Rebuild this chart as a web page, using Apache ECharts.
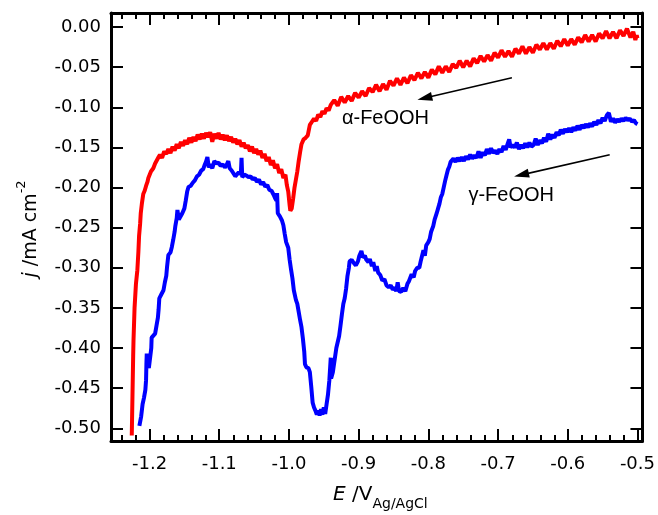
<!DOCTYPE html>
<html><head><meta charset="utf-8">
<script src="https://cdn.jsdelivr.net/npm/echarts@6/dist/echarts.min.js"></script>
<style>html,body{margin:0;padding:0;background:#fff}#c{width:658px;height:515px}</style>
</head><body><div id="c"></div>
<script>
// ---- tick values ----
const xMajorTicks = [-1.2, -1.1, -1.0, -0.9, -0.8, -0.7, -0.6, -0.5];
const xMinorTicks = [-1.24, -1.22, -1.18, -1.16, -1.14, -1.12, -1.08, -1.06, -1.04, -1.02,
  -0.98, -0.96, -0.94, -0.92, -0.88, -0.86, -0.84, -0.82, -0.78, -0.76, -0.74, -0.72,
  -0.68, -0.66, -0.64, -0.62, -0.58, -0.56, -0.54, -0.52];
const yTicks = [0, -0.05, -0.10, -0.15, -0.20, -0.25, -0.30, -0.35, -0.40, -0.45, -0.50];
const xRange = [-1.2553, -0.4928];
const yRange = [-0.5158, 0.0175];

// ---- series: E (V vs Ag/AgCl), j (mA cm^-2) ----
const alphaFeOOH = [
[-1.2255,-0.509],[-1.2245,-0.46],[-1.2235,-0.41],[-1.223,-0.39],[-1.2215,-0.35],[-1.2195,-0.32],[-1.2175,-0.303],
[-1.216,-0.28],[-1.215,-0.26],[-1.2135,-0.245],[-1.2126,-0.232],[-1.211,-0.22],[-1.209,-0.208],[-1.207,-0.204],
[-1.205,-0.198],[-1.203,-0.193],[-1.2017,-0.188],[-1.2,-0.186],[-1.198,-0.18],[-1.1946,-0.176],[-1.192,-0.17],
[-1.19,-0.168],[-1.187,-0.162],[-1.185,-0.159],[-1.182,-0.163],[-1.179,-0.155],[-1.176,-0.158],[-1.173,-0.152],
[-1.17,-0.157],[-1.167,-0.149],[-1.164,-0.154],[-1.161,-0.146],[-1.158,-0.151],[-1.155,-0.143],[-1.152,-0.148],
[-1.149,-0.141],[-1.146,-0.146],[-1.143,-0.138],[-1.14,-0.144],[-1.137,-0.137],[-1.134,-0.142],[-1.131,-0.134],
[-1.128,-0.14],[-1.125,-0.133],[-1.122,-0.139],[-1.119,-0.132],[-1.116,-0.137],[-1.113,-0.131],[-1.11,-0.143],
[-1.107,-0.133],[-1.104,-0.139],[-1.101,-0.132],[-1.098,-0.14],[-1.095,-0.134],[-1.092,-0.141],[-1.089,-0.135],
[-1.086,-0.142],[-1.083,-0.137],[-1.08,-0.144],[-1.077,-0.139],[-1.074,-0.146],[-1.071,-0.141],[-1.068,-0.149],
[-1.065,-0.144],[-1.062,-0.151],[-1.059,-0.147],[-1.056,-0.155],[-1.053,-0.149],[-1.05,-0.157],[-1.047,-0.152],
[-1.044,-0.159],[-1.041,-0.154],[-1.038,-0.163],[-1.035,-0.158],[-1.032,-0.167],[-1.029,-0.162],[-1.026,-0.172],
[-1.023,-0.166],[-1.02,-0.176],[-1.017,-0.171],[-1.014,-0.182],[-1.011,-0.177],[-1.008,-0.188],[-1.005,-0.184],
[-1.003,-0.197],[-1.001,-0.205],[-0.999,-0.222],[-0.998,-0.229],[-0.996,-0.226],[-0.994,-0.214],[-0.992,-0.2],
[-0.99,-0.19],[-0.988,-0.18],[-0.986,-0.167],[-0.984,-0.156],[-0.982,-0.146],[-0.979,-0.14],[-0.976,-0.138],
[-0.973,-0.135],[-0.97,-0.122],[-0.967,-0.118],[-0.964,-0.114],[-0.961,-0.117],[-0.958,-0.109],[-0.955,-0.112],
[-0.952,-0.105],[-0.949,-0.108],[-0.946,-0.101],[-0.943,-0.104],[-0.94,-0.097],
[-0.935,-0.091],[-0.930,-0.098],[-0.925,-0.087],[-0.920,-0.094],[-0.915,-0.086],[-0.910,-0.092],[-0.905,-0.082],
[-0.900,-0.088],[-0.895,-0.080],[-0.890,-0.086],[-0.885,-0.076],[-0.880,-0.081],[-0.875,-0.072],[-0.870,-0.080],
[-0.865,-0.071],[-0.860,-0.078],[-0.855,-0.067],[-0.850,-0.073],[-0.845,-0.064],[-0.840,-0.072],[-0.835,-0.063],
[-0.830,-0.070],[-0.825,-0.060],[-0.820,-0.066],[-0.815,-0.057],[-0.810,-0.064],[-0.805,-0.056],[-0.800,-0.063],
[-0.795,-0.053],[-0.790,-0.059],[-0.785,-0.049],[-0.780,-0.057],[-0.775,-0.049],[-0.770,-0.056],[-0.765,-0.046],
[-0.760,-0.051],[-0.755,-0.042],[-0.750,-0.050],[-0.745,-0.042],[-0.740,-0.049],[-0.735,-0.039],[-0.730,-0.045],
[-0.725,-0.036],[-0.720,-0.043],[-0.715,-0.035],[-0.710,-0.042],[-0.705,-0.032],[-0.700,-0.038],[-0.695,-0.029],
[-0.690,-0.037],[-0.685,-0.030],[-0.680,-0.037],[-0.675,-0.027],[-0.670,-0.033],[-0.665,-0.024],[-0.660,-0.033],
[-0.655,-0.025],[-0.650,-0.032],[-0.645,-0.022],[-0.640,-0.028],[-0.635,-0.020],[-0.630,-0.028],[-0.625,-0.020],
[-0.620,-0.027],[-0.615,-0.017],[-0.610,-0.024],[-0.605,-0.015],[-0.600,-0.023],[-0.595,-0.015],[-0.590,-0.022],
[-0.585,-0.013],[-0.580,-0.019],[-0.575,-0.010],[-0.570,-0.018],[-0.565,-0.010],[-0.560,-0.018],[-0.555,-0.008],
[-0.550,-0.014],[-0.545,-0.005],[-0.540,-0.014],[-0.535,-0.006],[-0.530,-0.014],[-0.525,-0.004],[-0.520,-0.011],
[-0.515,-0.002],[-0.510,-0.013],[-0.506,-0.006],[-0.503,-0.016],[-0.501,-0.010],[-0.500,-0.014]
];

const gammaFeOOH = [
[-1.2146,-0.497],[-1.212,-0.485],[-1.210,-0.470],[-1.208,-0.462],[-1.206,-0.452],[-1.205,-0.440],[-1.2045,-0.420],
[-1.204,-0.407],[-1.2025,-0.405],[-1.201,-0.425],[-1.199,-0.424],[-1.1975,-0.400],[-1.197,-0.387],[-1.195,-0.385],
[-1.192,-0.382],[-1.190,-0.372],[-1.188,-0.362],[-1.187,-0.352],[-1.186,-0.338],[-1.183,-0.333],[-1.180,-0.328],
[-1.178,-0.318],[-1.176,-0.310],[-1.175,-0.300],[-1.173,-0.284],[-1.170,-0.281],[-1.168,-0.274],[-1.166,-0.265],
[-1.164,-0.255],[-1.163,-0.248],[-1.161,-0.238],[-1.160,-0.228],[-1.158,-0.240],[-1.156,-0.238],[-1.153,-0.232],
[-1.150,-0.226],[-1.148,-0.216],[-1.146,-0.205],[-1.144,-0.199],[-1.141,-0.198],[-1.138,-0.194],[-1.135,-0.191],
[-1.132,-0.186],[-1.129,-0.184],[-1.126,-0.179],[-1.123,-0.177],[-1.121,-0.172],[-1.119,-0.168],[-1.117,-0.162],
[-1.115,-0.175],[-1.113,-0.171],[-1.110,-0.176],[-1.107,-0.167],[-1.104,-0.170],[-1.101,-0.169],[-1.098,-0.173],
[-1.095,-0.171],[-1.092,-0.175],[-1.0895,-0.172],[-1.087,-0.167],[-1.085,-0.176],[-1.082,-0.179],[-1.080,-0.181],
[-1.077,-0.186],[-1.075,-0.188],[-1.072,-0.181],[-1.069,-0.183],[-1.068,-0.163],[-1.067,-0.187],[-1.064,-0.184],
[-1.061,-0.185],[-1.058,-0.187],[-1.055,-0.186],[-1.052,-0.190],[-1.049,-0.188],[-1.046,-0.193],[-1.043,-0.190],
[-1.040,-0.196],[-1.037,-0.193],[-1.034,-0.199],[-1.031,-0.197],[-1.028,-0.203],[-1.025,-0.204],[-1.022,-0.209],
[-1.020,-0.213],[-1.018,-0.216],[-1.017,-0.207],[-1.016,-0.232],[-1.013,-0.236],[-1.010,-0.241],[-1.008,-0.247],
[-1.006,-0.258],[-1.004,-0.268],[-1.001,-0.275],[-0.999,-0.290],[-0.997,-0.302],[-0.995,-0.313],[-0.993,-0.328],
[-0.990,-0.340],[-0.988,-0.345],[-0.986,-0.355],[-0.984,-0.365],[-0.982,-0.374],[-0.980,-0.388],[-0.978,-0.405],
[-0.977,-0.420],[-0.975,-0.424],[-0.972,-0.425],[-0.970,-0.430],[-0.968,-0.448],[-0.966,-0.468],[-0.964,-0.474],
[-0.962,-0.478],[-0.960,-0.483],[-0.958,-0.478],[-0.956,-0.484],[-0.954,-0.476],[-0.952,-0.483],[-0.950,-0.474],
[-0.948,-0.482],[-0.946,-0.470],[-0.944,-0.458],[-0.942,-0.440],[-0.940,-0.412],[-0.9395,-0.438],[-0.937,-0.430],
[-0.935,-0.418],[-0.932,-0.400],[-0.930,-0.398],[-0.928,-0.385],[-0.926,-0.372],[-0.924,-0.358],[-0.922,-0.345],
[-0.920,-0.338],[-0.918,-0.326],[-0.916,-0.310],[-0.914,-0.300],[-0.913,-0.292],[-0.910,-0.290],[-0.907,-0.294],
[-0.904,-0.297],[-0.901,-0.292],[-0.899,-0.285],[-0.896,-0.279],[-0.894,-0.287],[-0.891,-0.285],[-0.889,-0.290],
[-0.886,-0.293],[-0.884,-0.289],[-0.881,-0.298],[-0.879,-0.293],[-0.876,-0.304],[-0.874,-0.298],[-0.872,-0.306],
[-0.869,-0.309],[-0.866,-0.316],[-0.863,-0.314],[-0.860,-0.322],[-0.857,-0.324],[-0.854,-0.322],[-0.851,-0.327],
[-0.848,-0.325],[-0.846,-0.329],[-0.844,-0.318],[-0.842,-0.329],[-0.839,-0.330],[-0.836,-0.325],[-0.833,-0.329],
[-0.830,-0.320],[-0.828,-0.317],[-0.826,-0.319],[-0.824,-0.308],[-0.821,-0.312],[-0.819,-0.304],[-0.816,-0.300],
[-0.813,-0.300],[-0.811,-0.292],[-0.809,-0.290],[-0.807,-0.278],[-0.805,-0.285],[-0.803,-0.272],[-0.800,-0.268],
[-0.798,-0.264],[-0.796,-0.255],[-0.793,-0.248],[-0.791,-0.240],[-0.788,-0.232],[-0.786,-0.226],[-0.784,-0.220],
[-0.782,-0.212],[-0.780,-0.208],[-0.778,-0.200],[-0.776,-0.192],[-0.774,-0.185],[-0.772,-0.178],[-0.770,-0.174],
[-0.768,-0.168],[-0.766,-0.170],[-0.764,-0.164],[-0.761,-0.168],[-0.758,-0.163],[-0.755,-0.167],[-0.752,-0.162],
[-0.749,-0.167],[-0.746,-0.161],[-0.743,-0.165],[-0.740,-0.159],[-0.737,-0.164],[-0.734,-0.160],[-0.731,-0.163],
[-0.728,-0.155],[-0.725,-0.163],[-0.722,-0.156],[-0.719,-0.160],[-0.716,-0.152],[-0.713,-0.158],[-0.710,-0.151],
[-0.707,-0.157],[-0.704,-0.154],[-0.701,-0.158],[-0.698,-0.152],[-0.695,-0.156],[-0.692,-0.148],[-0.689,-0.153],
[-0.686,-0.145],[-0.684,-0.140],[-0.682,-0.150],[-0.679,-0.147],[-0.676,-0.150],[-0.673,-0.144],[-0.670,-0.152],
[-0.667,-0.147],[-0.664,-0.151],[-0.661,-0.145],[-0.658,-0.150],[-0.655,-0.144],[-0.652,-0.149],[-0.649,-0.147],
[-0.646,-0.139],[-0.643,-0.147],[-0.640,-0.141],[-0.637,-0.145],[-0.634,-0.138],[-0.631,-0.143],[-0.628,-0.133],
[-0.625,-0.140],[-0.622,-0.134],[-0.619,-0.138],[-0.616,-0.131],[-0.613,-0.135],[-0.610,-0.128],[-0.607,-0.133],
[-0.604,-0.127],[-0.601,-0.131],[-0.598,-0.126],[-0.595,-0.131],[-0.592,-0.125],[-0.589,-0.129],[-0.586,-0.123],
[-0.583,-0.128],[-0.580,-0.122],[-0.577,-0.126],[-0.574,-0.121],[-0.571,-0.125],[-0.568,-0.120],[-0.565,-0.124],
[-0.562,-0.118],[-0.559,-0.122],[-0.556,-0.116],[-0.553,-0.120],[-0.550,-0.113],[-0.547,-0.117],[-0.544,-0.110],
[-0.541,-0.107],[-0.538,-0.118],[-0.535,-0.114],[-0.532,-0.119],[-0.529,-0.115],[-0.526,-0.118],[-0.523,-0.114],
[-0.520,-0.117],[-0.517,-0.113],[-0.514,-0.116],[-0.511,-0.114],[-0.508,-0.118],[-0.505,-0.116],[-0.502,-0.120],
[-0.500,-0.121]
];

// ---- annotations (data coordinates) ----
const alphaLabel = { text: 'α-FeOOH', at: [-0.8615, -0.1135] };
const gammaLabel = { text: 'γ-FeOOH', at: [-0.6811, -0.2094] };
const alphaArrow = [[-0.6801, -0.0632], [-0.8052, -0.0885]];
const gammaArrow = [[-0.5398, -0.1592], [-0.6664, -0.1842]];

const FONT = 'DejaVu Sans';
const gridBox = { left: 111, top: 13, right: 15, bottom: 74 };
const axisLineStyle = { show: true, onZero: false, lineStyle: { color: '#000', width: 3 } };

function xAx(gridIndex, position, ticks, len, withLabel, withLine) {
  return {
    type: 'value', gridIndex, position, min: xRange[0], max: xRange[1],
    axisLine: withLine ? axisLineStyle : { show: false, onZero: false },
    axisTick: { show: true, inside: true, length: len, customValues: ticks, lineStyle: { color: '#000', width: 2 } },
    axisLabel: withLabel ? { show: true, customValues: ticks, margin: 14, color: '#000',
      fontFamily: FONT, fontSize: 18, formatter: v => v.toFixed(1) } : { show: false },
    splitLine: { show: false }
  };
}
function yAx(gridIndex, position, withLabel, show) {
  return {
    type: 'value', gridIndex, position, min: yRange[0], max: yRange[1], show,
    axisLine: axisLineStyle,
    axisTick: { show: true, inside: true, length: 12, customValues: yTicks, lineStyle: { color: '#000', width: 2 } },
    axisLabel: withLabel ? { show: true, customValues: yTicks, margin: 10, color: '#000',
      fontFamily: FONT, fontSize: 18, formatter: v => v.toFixed(2) } : { show: false },
    splitLine: { show: false }
  };
}

function textMark(lbl) {
  return {
    symbol: 'circle', symbolSize: 1, silent: true,
    itemStyle: { color: 'rgba(0,0,0,0)' },
    label: { show: true, position: 'inside', formatter: lbl.text, color: '#000',
      fontFamily: 'Liberation Sans', fontSize: 20 },
    data: [{ coord: lbl.at, value: lbl.text }]
  };
}
function arrowMark(arr) {
  return {
    silent: true, symbol: ['none', 'triangle'], symbolSize: [9, 15],
    label: { show: false }, emphasis: { disabled: true },
    lineStyle: { color: '#000', width: 1.6, type: 'solid' },
    data: [[{ coord: arr[0] }, { coord: arr[1] }]]
  };
}

const chart = echarts.init(document.getElementById('c'), null, { renderer: 'canvas' });
chart.setOption({
  animation: false,
  backgroundColor: '#fff',
  grid: [Object.assign({}, gridBox), Object.assign({}, gridBox)],
  xAxis: [
    xAx(0, 'bottom', xMajorTicks, 12, true, true),
    xAx(0, 'top', xMajorTicks, 12, false, true),
    xAx(1, 'bottom', xMinorTicks, 6, false, false),
    xAx(1, 'top', xMinorTicks, 6, false, false)
  ],
  yAxis: [
    yAx(0, 'left', true, true),
    yAx(0, 'right', false, true),
    yAx(1, 'left', false, false)
  ],
  series: [
    { type: 'line', name: 'α-FeOOH', xAxisIndex: 0, yAxisIndex: 0, data: alphaFeOOH,
      showSymbol: false, symbol: 'none', lineStyle: { color: '#ff0000', width: 4 },
      markPoint: textMark(alphaLabel), markLine: arrowMark(alphaArrow) },
    { type: 'line', name: 'γ-FeOOH', xAxisIndex: 0, yAxisIndex: 0, data: gammaFeOOH,
      showSymbol: false, symbol: 'none', lineStyle: { color: '#0000ff', width: 4 },
      markPoint: textMark(gammaLabel), markLine: arrowMark(gammaArrow) }
  ],
  graphic: [
    { type: 'text', left: 333, top: 485, style: {
        text: '{i|E}{n| /V}{s|Ag/AgCl}', fill: '#000',
        rich: {
          i: { fontFamily: FONT, fontStyle: 'italic', fontSize: 20, lineHeight: 26, verticalAlign: 'top' },
          n: { fontFamily: FONT, fontSize: 20, lineHeight: 26, verticalAlign: 'top' },
          s: { fontFamily: FONT, fontSize: 14, lineHeight: 12, verticalAlign: 'bottom' }
        } } },
    { type: 'text', x: 28, y: 229, rotation: Math.PI / 2, style: {
        text: '{i|j}{n| /mA cm}{p|-2}', fill: '#000', align: 'center', verticalAlign: 'middle',
        rich: {
          i: { fontFamily: FONT, fontStyle: 'italic', fontSize: 19, lineHeight: 26, verticalAlign: 'bottom' },
          n: { fontFamily: FONT, fontSize: 19, lineHeight: 26, verticalAlign: 'bottom' },
          p: { fontFamily: FONT, fontSize: 13, lineHeight: 12, verticalAlign: 'top' }
        } } }
  ]
});
</script>
</body></html>
